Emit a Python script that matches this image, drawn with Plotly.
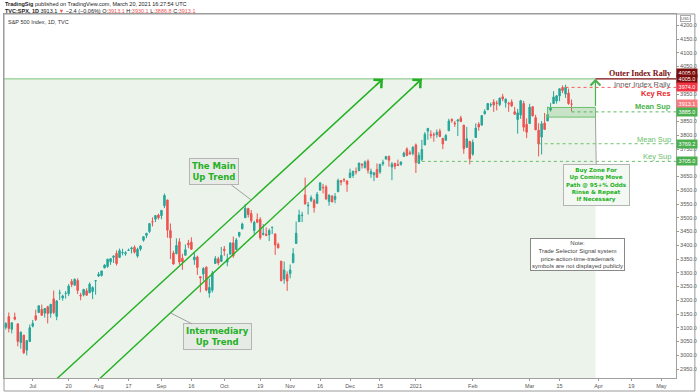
import pandas as pd
import plotly.graph_objects as go

# ---------------- data ----------------
holidays = ["2020-07-03", "2020-09-07", "2020-11-26", "2020-12-25",
            "2021-01-01", "2021-01-18", "2021-02-15", "2021-04-02"]
first_day = "2020-06-17"
last_bar = "2021-03-19"
calendar_end = "2021-05-28"

opens = [
    3136.13, 3101.64, 3140.29, 3094.42, 3138.70, 3114.40, 3046.60, 3073.20, 3018.59, 3050.20,
    3105.92, 3143.64, 3155.29, 3166.44, 3153.07, 3176.17, 3152.47, 3205.08, 3141.11, 3225.98, 3208.36, 3224.21, 3224.29, 3268.52, 3254.86, 3271.64, 3218.58, 3219.84, 3234.27, 3227.22, 3231.76, 3270.45,
    3288.26, 3289.92, 3317.37, 3323.17, 3340.05, 3356.04, 3370.34, 3355.46, 3372.95, 3368.66, 3380.86, 3387.04, 3392.51, 3360.48, 3386.01, 3418.09, 3435.95, 3449.97, 3485.14, 3494.69, 3509.73,
    3507.44, 3543.76, 3564.74, 3453.60, 3371.88, 3369.82, 3412.56, 3352.70, 3363.56, 3407.73, 3411.23, 3346.86, 3357.38, 3285.57, 3295.75, 3320.11, 3226.14, 3236.66, 3333.90, 3350.92, 3341.21,
    3385.87, 3338.94, 3367.27, 3408.74, 3384.56, 3434.28, 3459.67, 3500.02, 3534.01, 3515.47, 3453.72, 3493.50, 3493.66, 3439.38, 3439.91, 3438.50, 3464.90, 3441.42, 3403.15, 3342.48, 3277.17, 3293.59,
    3296.20, 3336.25, 3406.46, 3485.74, 3508.34, 3583.04, 3543.26, 3563.22, 3562.67, 3552.57, 3600.16, 3610.31, 3612.09, 3559.41, 3579.31, 3566.82, 3594.52, 3635.50, 3638.55, 3634.18,
    3645.87, 3653.78, 3668.28, 3670.94, 3694.73, 3683.05, 3705.98, 3659.13, 3656.08, 3675.27, 3666.41, 3696.25, 3713.65, 3722.39, 3684.28, 3698.08, 3693.42, 3694.03, 3723.03, 3750.01, 3736.19, 3733.27,
    3764.61, 3698.02, 3712.20, 3764.71, 3815.05, 3803.14, 3801.62, 3802.23, 3814.98, 3788.73, 3781.88, 3816.22, 3857.46, 3844.24, 3851.68, 3862.96, 3836.83, 3755.75, 3778.05,
    3731.17, 3791.84, 3840.27, 3836.66, 3878.30, 3892.59, 3910.49, 3920.78, 3916.40, 3911.65, 3939.61, 3918.50, 3915.86, 3921.16, 3885.55, 3857.07, 3873.71, 3915.80, 3839.66,
    3842.51, 3903.64, 3863.99, 3818.53, 3793.58, 3844.39, 3851.93, 3891.99, 3915.54, 3924.52, 3942.96, 3973.59, 3949.57, 3953.50, 3913.14,
]
highs = [
    3141.16, 3120.00, 3155.53, 3120.92, 3154.90, 3115.01, 3086.25, 3073.73, 3053.89, 3111.51,
    3128.44, 3165.81, 3182.59, 3184.15, 3171.80, 3179.78, 3186.82, 3235.32, 3200.95, 3238.28, 3220.39, 3233.52, 3258.61, 3277.29, 3279.32, 3279.99, 3227.26, 3241.43, 3243.72, 3264.74, 3250.92, 3272.17,
    3302.73, 3306.84, 3330.77, 3351.03, 3352.54, 3363.29, 3381.01, 3387.89, 3387.24, 3378.51, 3387.59, 3395.06, 3399.54, 3390.80, 3399.96, 3432.09, 3444.21, 3481.07, 3501.38, 3509.23, 3514.77,
    3528.03, 3588.11, 3564.85, 3479.15, 3379.97, 3424.77, 3425.55, 3368.95, 3402.93, 3419.48, 3428.92, 3375.17, 3362.27, 3285.57, 3320.31, 3323.35, 3278.70, 3306.88, 3360.74, 3357.92, 3393.56,
    3397.18, 3369.10, 3409.57, 3431.56, 3426.26, 3447.28, 3482.34, 3549.85, 3534.01, 3527.94, 3489.08, 3515.76, 3502.42, 3476.93, 3464.86, 3460.53, 3466.46, 3441.42, 3409.51, 3342.48, 3341.05, 3304.93,
    3330.14, 3389.49, 3486.25, 3529.05, 3521.58, 3645.99, 3557.22, 3581.16, 3569.02, 3593.66, 3628.51, 3623.11, 3619.09, 3585.22, 3581.23, 3589.81, 3642.31, 3635.50, 3644.31, 3634.18,
    3678.45, 3670.96, 3682.73, 3699.20, 3697.41, 3708.45, 3712.39, 3678.49, 3665.91, 3697.61, 3695.29, 3711.27, 3725.12, 3726.70, 3702.90, 3698.26, 3711.24, 3703.82, 3740.51, 3756.12, 3744.63, 3760.20,
    3769.99, 3737.83, 3783.04, 3811.55, 3826.69, 3817.86, 3810.78, 3820.96, 3823.60, 3788.73, 3804.53, 3859.75, 3861.45, 3852.31, 3859.23, 3870.90, 3836.83, 3830.50, 3778.05,
    3784.32, 3843.09, 3847.51, 3872.42, 3894.56, 3915.77, 3918.35, 3931.50, 3925.99, 3937.23, 3950.43, 3933.61, 3921.98, 3930.41, 3902.92, 3895.98, 3928.65, 3925.02, 3861.08,
    3914.50, 3906.41, 3874.47, 3843.67, 3851.69, 3881.06, 3903.76, 3917.35, 3960.27, 3944.99, 3970.08, 3981.04, 3983.87, 3969.62, 3930.12,
]
lows = [
    3108.03, 3093.51, 3083.11, 3079.39, 3127.12, 3032.13, 3024.01, 3004.63, 2999.74, 3047.83,
    3101.17, 3124.52, 3155.29, 3142.93, 3136.53, 3115.70, 3136.22, 3149.43, 3127.66, 3200.76, 3198.59, 3205.65, 3215.16, 3247.77, 3253.10, 3222.66, 3200.05, 3214.25, 3216.17, 3227.22, 3204.13, 3220.26,
    3284.53, 3286.37, 3317.37, 3318.14, 3328.72, 3335.44, 3326.44, 3355.46, 3363.35, 3361.64, 3379.22, 3370.15, 3369.66, 3354.69, 3379.31, 3413.13, 3425.84, 3444.15, 3468.35, 3484.32, 3493.25,
    3494.60, 3535.23, 3427.41, 3349.63, 3329.27, 3366.84, 3329.25, 3310.47, 3363.56, 3389.25, 3384.45, 3328.82, 3292.40, 3229.10, 3270.95, 3232.57, 3209.45, 3228.44, 3332.91, 3327.54, 3340.47,
    3361.39, 3323.69, 3367.27, 3354.54, 3384.56, 3428.15, 3458.07, 3499.61, 3500.86, 3480.55, 3440.89, 3480.45, 3419.93, 3435.65, 3433.06, 3415.34, 3440.45, 3364.86, 3388.71, 3268.89, 3259.82, 3233.94,
    3279.74, 3336.25, 3405.17, 3485.74, 3484.34, 3547.48, 3511.91, 3557.00, 3518.58, 3552.57, 3600.16, 3588.68, 3567.33, 3543.84, 3556.85, 3552.77, 3594.52, 3617.76, 3629.33, 3594.39,
    3645.87, 3644.84, 3657.17, 3670.94, 3678.88, 3678.83, 3660.54, 3645.18, 3633.40, 3645.84, 3659.62, 3688.57, 3710.87, 3685.84, 3636.48, 3676.16, 3689.28, 3689.32, 3723.03, 3723.31, 3730.21, 3726.88,
    3662.71, 3695.07, 3705.34, 3764.71, 3783.60, 3789.02, 3776.51, 3791.50, 3792.86, 3749.62, 3780.37, 3816.22, 3845.05, 3830.41, 3797.16, 3847.78, 3732.48, 3755.75, 3694.12,
    3725.62, 3791.84, 3816.68, 3836.66, 3874.93, 3892.59, 3902.64, 3884.94, 3890.39, 3905.78, 3923.85, 3900.43, 3885.03, 3903.07, 3874.71, 3805.59, 3859.60, 3814.04, 3789.54,
    3842.51, 3868.57, 3818.86, 3723.34, 3730.19, 3819.25, 3851.93, 3885.73, 3915.54, 3915.21, 3923.54, 3953.44, 3935.74, 3910.86, 3886.75,
]
closes = [
    3113.49, 3115.34, 3097.74, 3117.86, 3131.29, 3050.33, 3083.76, 3009.05, 3053.24, 3100.29,
    3115.86, 3130.01, 3179.72, 3145.32, 3169.94, 3152.05, 3185.04, 3155.22, 3197.52, 3226.56, 3215.57, 3224.73, 3251.84, 3257.30, 3276.02, 3235.66, 3215.63, 3239.41, 3218.44, 3258.44, 3246.22, 3271.12,
    3294.61, 3306.51, 3327.77, 3349.16, 3351.28, 3360.47, 3333.69, 3380.35, 3373.43, 3372.85, 3381.99, 3389.78, 3374.85, 3385.51, 3397.16, 3431.28, 3443.62, 3478.73, 3484.55, 3508.01, 3500.31,
    3526.65, 3580.84, 3455.06, 3426.96, 3331.84, 3398.96, 3339.19, 3340.97, 3383.54, 3401.20, 3385.49, 3357.01, 3319.47, 3281.06, 3315.57, 3236.92, 3246.59, 3298.46, 3351.60, 3335.47, 3363.00,
    3380.80, 3348.42, 3408.60, 3360.97, 3419.44, 3446.83, 3477.14, 3534.22, 3511.93, 3488.67, 3483.34, 3483.81, 3426.92, 3443.12, 3435.56, 3453.49, 3465.39, 3400.97, 3390.68, 3271.03, 3310.11, 3269.96,
    3310.24, 3369.16, 3443.44, 3510.45, 3509.44, 3550.50, 3545.53, 3572.66, 3537.01, 3585.15, 3626.91, 3609.53, 3567.79, 3581.87, 3557.54, 3577.59, 3635.41, 3629.65, 3638.35, 3621.63,
    3662.45, 3669.01, 3666.72, 3699.12, 3691.96, 3702.25, 3672.82, 3668.10, 3663.46, 3647.49, 3694.62, 3701.17, 3722.48, 3709.41, 3694.92, 3687.26, 3690.01, 3703.06, 3735.36, 3727.04, 3732.04, 3756.07,
    3700.65, 3726.86, 3748.14, 3803.79, 3824.68, 3799.61, 3801.19, 3809.84, 3795.54, 3768.25, 3798.91, 3851.85, 3853.07, 3841.47, 3855.36, 3849.62, 3750.77, 3787.38, 3714.24,
    3773.86, 3826.31, 3830.17, 3871.74, 3886.83, 3915.59, 3911.23, 3909.88, 3916.38, 3934.83, 3932.59, 3931.33, 3913.97, 3906.71, 3876.50, 3881.37, 3925.43, 3829.34, 3811.15,
    3901.82, 3870.29, 3819.72, 3768.47, 3841.94, 3821.35, 3875.44, 3898.81, 3939.34, 3943.34, 3968.94, 3962.71, 3974.12, 3915.46, 3913.10,
]

tick_dates = ["2020-07-01", "2020-07-20", "2020-08-03", "2020-08-17", "2020-09-01", "2020-09-16",
              "2020-10-01", "2020-10-19", "2020-11-02", "2020-11-16", "2020-12-01", "2020-12-15",
              "2021-01-04", "2021-02-01", "2021-03-01", "2021-03-15", "2021-04-01", "2021-04-19",
              "2021-05-03"]
tick_text = ["Jul", "20", "Aug", "17", "Sep", "16", "Oct", "19", "Nov", "16", "Dec", "15",
             "2021", "Feb", "Mar", "15", "Apr", "19", "May"]

price_ticks = [2950, 3000, 3050, 3100, 3150, 3200, 3250, 3300, 3350, 3400, 3450, 3500, 3550,
               3600, 3650, 3750, 3800, 3850, 3950, 4050, 4100, 4150, 4200]

outer_rally = 4005.0
inner_rally = 3974.0
mean_sup = 3885.0
mean_sup2 = 3769.2
key_sup = 3705.0
last_price = 3913.1
buy_zone = (3866.0, 3901.0)

main_trend = (("2020-07-14", 2914.0), ("2020-12-16", 4005.0))
inter_trend = (("2020-08-03", 2911.0), ("2021-01-06", 4005.0))

# ---------------- calendar / positions ----------------
cal = pd.bdate_range(first_day, calendar_end, freq="C", holidays=holidays)
pos = {d.strftime("%Y-%m-%d"): i for i, d in enumerate(cal)}
dates = [d.strftime("%Y-%m-%d") for d in cal if d <= pd.Timestamp(last_bar)]
assert len(dates) == len(opens) == len(highs) == len(lows) == len(closes), (len(dates), len(opens))
xs = [pos[d] for d in dates]


def X(d):
    return pos[d]


def line_at(seg, xi):
    (d0, p0), (d1, p1) = seg
    x0, x1 = X(d0), X(d1)
    return p0 + (p1 - p0) * (xi - x0) / (x1 - x0)


X_RANGE = [0.4, 224.9]
Y_RANGE = [2917.3, 4240.9]

# pixel helpers for paper positioning (plot area: x 3..680, y 14..378)
def PX(x):
    return (x - 3) / 677.0


def PY(y):
    return (378 - y) / 364.0


GREEN = "#23b023"
LGREEN = "#4caf50"
RED = "#ef5350"
TEAL = "#26a69a"
SANS = "Liberation Sans, Arial, sans-serif"
BOLD = "DejaVu Sans, Verdana, sans-serif"

fig = go.Figure()
fig.add_trace(go.Candlestick(
    x=xs, open=opens, high=highs, low=lows, close=closes,
    increasing=dict(line=dict(color=TEAL, width=1), fillcolor=TEAL),
    decreasing=dict(line=dict(color=RED, width=1), fillcolor=RED),
    whiskerwidth=0, showlegend=False, hoverinfo="skip",
))

end_shade = X("2021-03-31")
right_end = X_RANGE[1] + 2
shapes = []
# shaded zone
shapes.append(dict(type="rect", xref="x", yref="y", x0=-5, x1=end_shade, y0=2800, y1=outer_rally,
                   fillcolor="#ebf3ea", line=dict(width=0), layer="below"))
shapes.append(dict(type="line", xref="x", yref="y", x0=-5, x1=end_shade, y0=outer_rally, y1=outer_rally,
                   line=dict(color="#7cc47c", width=1)))
shapes.append(dict(type="line", xref="x", yref="y", x0=end_shade, x1=right_end, y0=outer_rally, y1=outer_rally,
                   line=dict(color="#7a0c0c", width=1.2)))
# level lines
shapes.append(dict(type="line", xref="x", yref="y", x0=X("2021-03-17"), x1=right_end, y0=inner_rally, y1=inner_rally,
                   line=dict(color="#ff5c5c", width=1, dash="dot")))
shapes.append(dict(type="line", xref="x", yref="y", x0=X("2021-03-19"), x1=right_end, y0=mean_sup, y1=mean_sup,
                   line=dict(color="#5cb85c", width=1, dash="dot")))
shapes.append(dict(type="line", xref="x", yref="y", x0=X("2021-03-04"), x1=right_end, y0=mean_sup2, y1=mean_sup2,
                   line=dict(color="#6cc06c", width=1, dash="dot")))
shapes.append(dict(type="line", xref="x", yref="y", x0=X("2021-01-04"), x1=right_end, y0=key_sup, y1=key_sup,
                   line=dict(color="#6cc06c", width=1, dash="dot")))
# buy zone
shapes.append(dict(type="rect", xref="x", yref="y", x0=X("2021-03-09"), x1=end_shade, y0=buy_zone[0], y1=buy_zone[1],
                   fillcolor="rgba(76,175,80,0.22)", line=dict(color="#6cc06c", width=1)))
# trend lines
for seg in (main_trend, inter_trend):
    (d0, p0), (d1, p1) = seg
    shapes.append(dict(type="line", xref="x", yref="y", x0=X(d0), y0=p0, x1=X(d1), y1=p1,
                       line=dict(color=GREEN, width=1.4)))
# outer frame
shapes.append(dict(type="rect", xref="paper", yref="paper", x0=PX(3), x1=PX(699), y0=PY(391), y1=PY(14),
                   line=dict(color="#9a9a9a", width=1), fillcolor="rgba(0,0,0,0)"))

ann = []
# arrowheads on trend lines
for seg in (main_trend, inter_trend):
    (d0, p0), (d1, p1) = seg
    x1 = X(d1)
    ann.append(dict(x=x1, y=p1, ax=x1 - 3, ay=line_at(seg, x1 - 3), xref="x", yref="y", axref="x", ayref="y",
                    text="", showarrow=True, arrowhead=4, arrowsize=1.6, arrowwidth=1.4, arrowcolor=GREEN,
                    standoff=0))
# vertical buy-zone arrow
ann.append(dict(x=end_shade, y=outer_rally, ax=end_shade, ay=buy_zone[1], xref="x", yref="y", axref="x", ayref="y",
                text="", showarrow=True, arrowhead=4, arrowsize=1.6, arrowwidth=1.2, arrowcolor=LGREEN))

# callouts
xm = X("2020-10-14")
ann.append(dict(x=xm, y=line_at(main_trend, xm), xref="x", yref="y", ax=-37, ay=-28,
                text="<b>The Main<br>Up Trend</b>", font=dict(family=BOLD, size=8.5, color=GREEN),
                bgcolor="#e6ebe6", bordercolor="#b5b5b5", borderwidth=1, borderpad=2,
                showarrow=True, arrowhead=0, arrowcolor="#a0a0a0", arrowwidth=1))
xi = X("2020-09-04")
ann.append(dict(x=xi, y=line_at(inter_trend, xi), xref="x", yref="y", ax=47, ay=24,
                text="<b>Intermediary<br>Up Trend</b>", font=dict(family=BOLD, size=8.5, color=GREEN),
                bgcolor="#e6ebe6", bordercolor="#b5b5b5", borderwidth=1, borderpad=2,
                showarrow=True, arrowhead=0, arrowcolor="#a0a0a0", arrowwidth=1))
ann.append(dict(x=end_shade, y=buy_zone[0], xref="x", yref="y", ax=1, ay=68,
                text="<b>Buy Zone For<br>Up Coming Move<br>Path @ 95+% Odds<br>Rinse &amp; Repeat<br>If Necessary</b>",
                font=dict(family=BOLD, size=5.6, color=GREEN),
                bgcolor="#f4f8f3", bordercolor="#b5b5b5", borderwidth=1, borderpad=2,
                showarrow=True, arrowhead=0, arrowcolor="#a0a0a0", arrowwidth=1))
ann.append(dict(x=192, y=3368, xref="x", yref="y", xanchor="center", yanchor="middle",
                showarrow=False,
                text="Note:<br>Trade Selector Signal system<br>price-action-time-trademark<br>symbols are not displayed publicly",
                font=dict(family=SANS, size=6, color="#444"), bgcolor="#ffffff", bordercolor="#888",
                borderwidth=1, borderpad=1))

# level labels
def lab(y, text, color, size, fam=SANS):
    ann.append(dict(x=PX(677), y=PY(y), xref="paper", yref="paper", xanchor="right", yanchor="middle",
                    text=text, showarrow=False, font=dict(family=fam, size=size, color=color)))


lab(74, "<b>Outer Index Rally</b>", "#7a0c0c", 8, "Liberation Serif, serif")
lab(84, "Inner Index Rally", "#666666", 7.5)
lab(93, "<b>Key Res</b>", "#e8262b", 7.5)
lab(106.5, "<b>Mean Sup</b>", "#4cb34c", 7.5)
lab(139, "Mean Sup", "#6cc06c", 7.5)
lab(156.5, "Key Sup", "#6cc06c", 7.5)

# price badges
def badge(price, color, yshift=0):
    ann.append(dict(x=1.0, y=price, xref="paper", yref="y", xanchor="left", yanchor="middle", yshift=yshift,
                    text="%.1f" % price, showarrow=False, font=dict(family=SANS, size=5.5, color="white"),
                    bgcolor=color, borderpad=1, width=18))


badge(outer_rally, "#7a0c0c", 6)
badge(outer_rally, "#7a0c0c")
badge(inner_rally, "#f23645")
badge(last_price, "#f77c80")
badge(mean_sup, "#4caf50")
badge(mean_sup2, "#4caf50")
badge(key_sup, "#4caf50")
ann.append(dict(x=PX(690), y=PY(18.5), xref="paper", yref="paper", xanchor="center", yanchor="middle",
                text="USD", showarrow=False,
                font=dict(family=SANS, size=4, color="#555"), bordercolor="#aaa", borderwidth=1,
                borderpad=0, bgcolor="white"))

# header texts
ann.append(dict(x=PX(2), y=PY(4), xref="paper", yref="paper", xanchor="left", yanchor="middle", showarrow=False,
                text="<b>TradingSig</b> published on TradingView.com, March 20, 2021 16:27:54 UTC",
                font=dict(family=SANS, size=5.5, color="#222")))
r = "#ef5350"
ann.append(dict(x=PX(2), y=PY(11), xref="paper", yref="paper", xanchor="left", yanchor="middle", showarrow=False,
                text=("<b>TVC:SPX, 1D</b> 3913.1 <span style='color:%s'>▼</span> −2.4 (−0.06%%) "
                      "O:<span style='color:%s'>3913.1</span> H:<span style='color:%s'>3930.1</span> "
                      "L:<span style='color:%s'>3886.8</span> C:<span style='color:%s'>3913.1</span>") % (r, r, r, r, r),
                font=dict(family=SANS, size=5.5, color="#222")))
ann.append(dict(x=PX(5), y=PY(22), xref="paper", yref="paper", xanchor="left", yanchor="middle", showarrow=False,
                text="S&amp;P 500 Index, 1D, TVC", font=dict(family=SANS, size=5.5, color="#333")))

fig.update_layout(
    width=700, height=392, autosize=False,
    margin=dict(l=3, r=20, t=14, b=14),
    paper_bgcolor="white", plot_bgcolor="white",
    shapes=shapes, annotations=ann, showlegend=False,
    xaxis=dict(range=X_RANGE, tickvals=[X(d) for d in tick_dates], ticktext=tick_text,
               tickfont=dict(family=SANS, size=5.5, color="#555"), ticks="outside", ticklen=2,
               tickcolor="#999", showgrid=False, zeroline=False, showline=True, linecolor="#a0a0a0",
               mirror=True, rangeslider=dict(visible=False), fixedrange=True),
    yaxis=dict(range=Y_RANGE, side="right", tickvals=price_ticks, ticktext=["%.1f" % v for v in price_ticks],
               tickfont=dict(family=SANS, size=5.5, color="#555"), ticks="outside", ticklen=2,
               tickcolor="#999", showgrid=False, zeroline=False, showline=True, linecolor="#a0a0a0",
               mirror=True, fixedrange=True),
)

fig.write_html("out.html")
